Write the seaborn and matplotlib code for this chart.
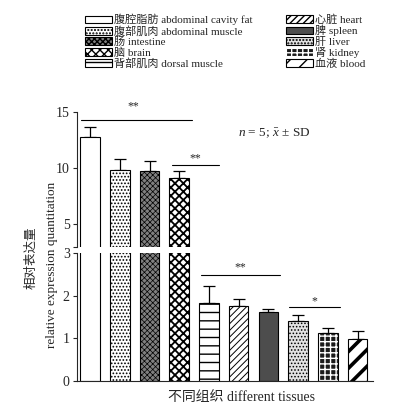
import numpy as np
import matplotlib
matplotlib.use("Agg")
import matplotlib.pyplot as plt
import matplotlib.patches as mpatches
import seaborn as sns

# data
tissues_cn = ["腹腔脂肪", "腹部肌肉", "肠", "脑", "背部肌肉", "心脏", "脾", "肝", "肾", "血液"]
tissues_en = ["abdominal cavity fat", "abdominal muscle", "intestine", "brain", "dorsal muscle",
              "heart", "spleen", "liver", "kidney", "blood"]
means = [12.77, 9.82, 9.75, 9.15, 1.83, 1.77, 1.62, 1.41, 1.12, 0.99]
sd = [0.90, 0.95, 0.85, 0.55, 0.40, 0.15, 0.08, 0.13, 0.11, 0.18]

# bar styles (face, hatch, hatch line width)
faces = ["white", "white", "#808080", "white", "white", "white", "#4d4d4d", "#e2e2e2", "#1a1a1a", "white"]
hatches = [None, ".....", "xxxxxx", "xxxx", "--", "/////", None, ".....", "+++", "//"]
hatch_lw = [1.0, 0.8, 0.5, 1.3, 1.0, 0.7, 1.0, 0.7, 1.0, 2.6]
hatch_col = ["black"] * 8 + ["white", "black"]

sns.set_style("ticks")
plt.rcParams["font.family"] = ["Liberation Serif", "Noto Sans CJK SC"]
plt.rcParams["mathtext.fontset"] = "custom"
plt.rcParams["mathtext.rm"] = "Liberation Serif"
plt.rcParams["mathtext.it"] = "Liberation Serif:italic"
plt.rcParams["hatch.linewidth"] = 1.0

fig = plt.figure(figsize=(3.94, 4.12), dpi=100)
ax_top = fig.add_axes([0.1947, 0.4012, 0.752, 0.3277])
ax_bot = fig.add_axes([0.1947, 0.0760, 0.752, 0.3092])

labels = [c + " " + e for c, e in zip(tissues_cn, tissues_en)]
xpos = np.arange(len(means))


def style_bars(ax):
    for i, p in enumerate(ax.patches[:len(means)]):
        p.set_facecolor(faces[i])
        p.set_edgecolor(hatch_col[i])
        p.set_linewidth(0.8)
        if hatches[i]:
            p.set_hatch(hatches[i])
        if hasattr(p, "set_hatch_linewidth"):
            p.set_hatch_linewidth(hatch_lw[i])
        if hatch_col[i] != "black":
            # black outline on top of white hatch
            x0, y0 = p.get_xy()
            ax.add_patch(mpatches.Rectangle((x0, y0), p.get_width(), p.get_height(),
                                            fill=False, edgecolor="black", linewidth=0.8, zorder=p.get_zorder() + 0.1))


for ax in (ax_top, ax_bot):
    sns.barplot(x=labels, y=means, ax=ax, width=0.66, color="white", edgecolor="black",
                linewidth=0.8, errorbar=None, zorder=2)
    style_bars(ax)
    ax.errorbar(xpos, means, yerr=[np.zeros(len(sd)), sd], fmt="none", ecolor="black",
                elinewidth=0.9, capsize=4, capthick=0.9, zorder=1)
    ax.set_xlim(-0.45, 9.52)
    ax.set_xlabel("")
    ax.set_ylabel("")
    ax.tick_params(axis="y", direction="out", length=3, width=0.8, labelsize=10, pad=2)
    for s in ax.spines.values():
        s.set_linewidth(0.8)
    sns.despine(ax=ax)

ax_top.set_ylim(3, 15)
ax_top.set_yticks([3, 5, 10, 15])
ax_top.set_yticklabels(["", "5", "10", "15"])
ax_top.spines["bottom"].set_visible(False)
ax_top.set_xticks([])

ax_bot.set_ylim(0, 3)
ax_bot.set_yticks([0, 1, 2, 3])
ax_bot.set_xticks([])

# significance marks
ax_top.plot([-0.3, 3.43], [14.26, 14.26], color="black", lw=0.8, clip_on=False)
ax_top.text(1.45, 15.45, "**", ha="center", va="center", fontsize=8.5, clip_on=False)
ax_top.plot([2.76, 4.34], [10.24, 10.24], color="black", lw=0.8)
ax_top.text(3.55, 10.85, "**", ha="center", va="center", fontsize=8.5)
ax_top.text(4.98, 13.1, r"$n$ = 5; $\bar{x}$ ± SD", ha="left", va="center", fontsize=9.5)

ax_bot.plot([3.74, 6.4], [2.5, 2.5], color="black", lw=0.8)
ax_bot.text(5.05, 2.67, "**", ha="center", va="center", fontsize=8.5)
ax_bot.plot([6.7, 8.42], [1.74, 1.74], color="black", lw=0.8)
ax_bot.text(7.56, 1.88, "*", ha="center", va="center", fontsize=8.5)

# axis titles
fig.text(32 / 394, 1 - 258 / 412, "相对表达量", rotation=90, ha="center", va="center", fontsize=9)
fig.text(52 / 394, 1 - 265 / 412, "relative expression quantitation", rotation=90,
         ha="center", va="center", fontsize=9.5)
fig.text(242 / 394, 1 - 398 / 412, "不同组织 different tissues", ha="center", va="center", fontsize=10)

# legend in two blocks
handles = []
for i in range(len(means)):
    h = mpatches.Patch(facecolor=faces[i], edgecolor=hatch_col[i], hatch=hatches[i], linewidth=0.8)
    if hasattr(h, "set_hatch_linewidth"):
        h.set_hatch_linewidth(hatch_lw[i])
    handles.append(h)

leg_kw = dict(frameon=False, fontsize=8, handlelength=2.4, handleheight=0.7,
              handletextpad=0.2, labelspacing=0.03, borderpad=0, borderaxespad=0, loc="upper left")
fig.legend(handles[:5], labels[:5], bbox_to_anchor=(85 / 394, 1 - 14 / 412), **leg_kw)
fig.legend(handles[5:], labels[5:], bbox_to_anchor=(286 / 394, 1 - 14 / 412), **leg_kw)

plt.savefig("out.png", dpi=100)
plt.close()
